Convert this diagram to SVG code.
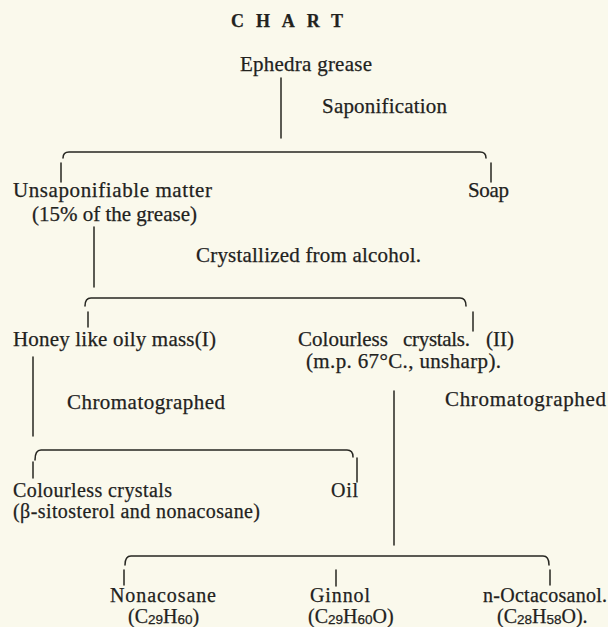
<svg xmlns="http://www.w3.org/2000/svg" width="608" height="627" viewBox="0 0 608 627">
<style>
  text { font-family: "Liberation Serif", "Times New Roman", serif; font-size: 21px; fill: #22221d; stroke: #22221d; stroke-width: 0.25; }
  .title { font-weight: bold; font-size: 18px; }
  .sm { font-size: 20px; }
  .sub { font-family: "Liberation Sans", Arial, sans-serif; font-size: 13.5px; }
  .ln { fill: none; stroke: #262621; stroke-width: 1.5; stroke-linecap: round; }
</style>
<rect width="608" height="627" fill="#faf9ec"/>

<g id="title"><text class="title" x="231" y="27" textLength="112">CHART</text></g>

<g id="connectors">
  <line class="ln" x1="281" y1="78" x2="281" y2="138"/>
  <path class="ln" d="M63,158 Q63,152 69,152 L480,152 Q486,152 486,158"/>
  <line class="ln" x1="61" y1="163" x2="61" y2="182"/>
  <line class="ln" x1="491" y1="163" x2="491" y2="182"/>

  <line class="ln" x1="94" y1="227" x2="94" y2="287"/>
  <path class="ln" d="M85,306 Q85,298 91,298 L460,298 Q466,298 466,306"/>
  <line class="ln" x1="88" y1="312" x2="88" y2="327"/>
  <line class="ln" x1="473" y1="312" x2="473" y2="331"/>

  <line class="ln" x1="33" y1="357" x2="33" y2="436"/>
  <path class="ln" d="M35,460 Q35,450 41,450 L347,450 Q353,450 353,457"/>
  <line class="ln" x1="33" y1="462" x2="33" y2="478"/>
  <line class="ln" x1="357" y1="458" x2="357" y2="482"/>

  <line class="ln" x1="394" y1="391" x2="394" y2="545"/>
  <path class="ln" d="M125,565 Q125,556 131,556 L543,556 Q549,556 549,565"/>
  <line class="ln" x1="124" y1="570" x2="124" y2="585"/>
  <line class="ln" x1="336" y1="570" x2="336" y2="586"/>
  <line class="ln" x1="550" y1="570" x2="550" y2="585"/>
</g>

<g id="labels">
  <text x="322" y="113" textLength="125">Saponification</text>
  <text x="196" y="262" textLength="225">Crystallized from alcohol.</text>
  <text x="67" y="409" textLength="158">Chromatographed</text>
  <text x="445" y="406" textLength="161">Chromatographed</text>
</g>

<g id="ephedra"><text x="240" y="71" textLength="132">Ephedra grease</text></g>

<g id="unsaponifiable">
  <text x="13" y="197" textLength="199">Unsaponifiable matter</text>
  <text x="32" y="221" textLength="165">(15% of the grease)</text>
</g>

<g id="soap"><text x="468" y="197" textLength="41">Soap</text></g>

<g id="honey"><text x="13" y="346" textLength="203">Honey like oily mass(I)</text></g>

<g id="colourless2">
  <text y="346"><tspan x="298" textLength="90">Colourless</tspan><tspan x="403" textLength="67">crystals.</tspan><tspan x="486" textLength="28">(II)</tspan></text>
  <text x="306" y="368" textLength="195">(m.p. 67°C., unsharp).</text>
</g>

<g id="colourless1">
  <text class="sm" x="13" y="497" textLength="159">Colourless crystals</text>
  <text class="sm" x="13" y="518" textLength="247">(β-sitosterol and nonacosane)</text>
</g>

<g id="oil"><text class="sm" x="331" y="497" textLength="27">Oil</text></g>

<g id="nonacosane">
  <text class="sm" x="110" y="602" textLength="106">Nonacosane</text>
  <text class="sm" x="128" y="623">(C<tspan class="sub" dy="1">29</tspan><tspan dy="-1">H</tspan><tspan class="sub" dy="1">60</tspan><tspan dy="-1">)</tspan></text>
</g>

<g id="ginnol">
  <text class="sm" x="310" y="602" textLength="60">Ginnol</text>
  <text class="sm" x="308" y="623">(C<tspan class="sub" dy="1">29</tspan><tspan dy="-1">H</tspan><tspan class="sub" dy="1">60</tspan><tspan dy="-1">O)</tspan></text>
</g>

<g id="octacosanol">
  <text class="sm" x="483" y="602" textLength="124">n-Octacosanol.</text>
  <text class="sm" x="497" y="623">(C<tspan class="sub" dy="1">28</tspan><tspan dy="-1">H</tspan><tspan class="sub" dy="1">58</tspan><tspan dy="-1">O).</tspan></text>
</g>
</svg>
